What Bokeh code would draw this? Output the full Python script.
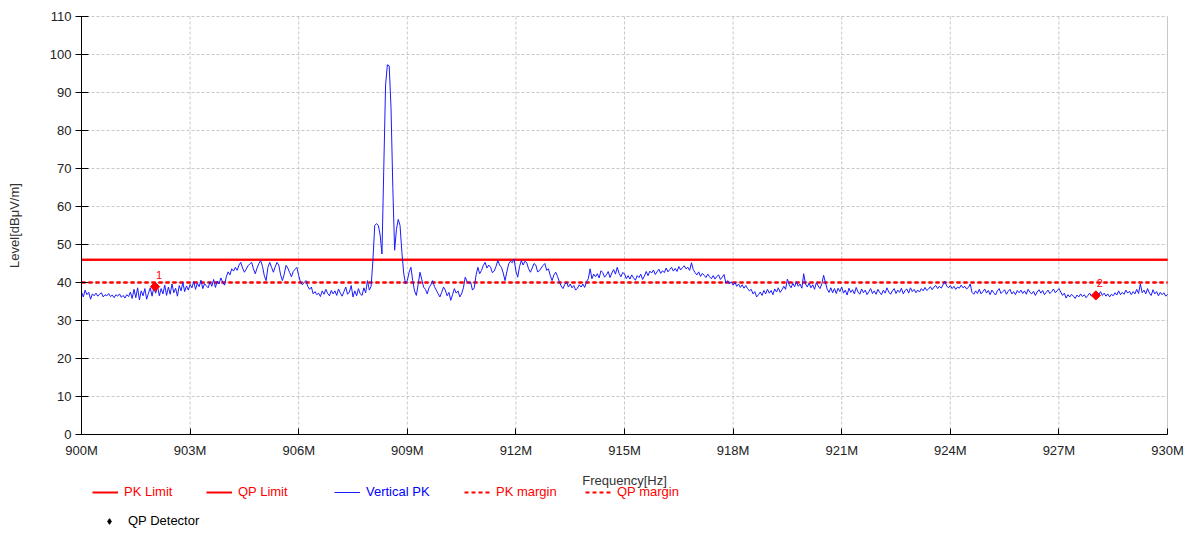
import math
import numpy as np
from bokeh.plotting import figure
from bokeh.models import (FixedTicker, PrintfTickFormatter, Legend, LegendItem,
                          Range1d, ColumnDataSource, Label)
from bokeh.core.properties import value
from bokeh.embed import file_html
from bokeh.resources import INLINE

# ---------------- data ----------------
# Vertical PK trace, one row per MHz (900M ... 929M), 0.05 MHz steps
vertical_pk_rows = [
    [37.5, 36.2, 38.0, 36.8, 37.4, 35.6, 37.0, 36.5, 37.2, 36.4, 36.9, 37.3, 36.2, 36.8, 36.5, 37.1, 36.3, 36.7, 36.0, 36.8],
    [36.4, 37.0, 36.1, 36.6, 35.9, 36.8, 36.3, 37.5, 35.8, 38.2, 36.0, 38.6, 35.4, 37.8, 36.5, 38.4, 35.6, 37.2, 38.6, 36.4],
    [38.9, 37.2, 39.0, 36.5, 38.4, 37.0, 39.3, 36.6, 38.8, 36.9, 39.6, 37.3, 38.5, 36.4, 39.2, 37.8, 40.0, 37.6, 39.1, 38.0],
    [39.5, 38.6, 40.3, 38.2, 39.8, 38.9, 40.6, 38.4, 39.7, 39.1, 38.6, 40.2, 39.0, 40.8, 38.7, 40.4, 39.6, 41.2, 40.1, 39.3],
    [41.5, 42.8, 42.0, 43.6, 43.0, 44.0, 43.2, 44.6, 45.3, 43.8, 42.7, 43.5, 44.4, 44.9, 45.3, 43.6, 42.3, 43.8, 45.0, 45.8],
    [44.2, 41.8, 40.5, 44.0, 45.3, 44.0, 42.7, 44.1, 45.3, 44.6, 42.0, 40.5, 42.2, 44.5, 43.8, 42.6, 41.5, 42.9, 43.5, 44.0],
    [41.8, 40.1, 39.4, 40.0, 40.5, 39.0, 38.2, 38.8, 37.0, 37.6, 36.8, 37.2, 36.3, 37.8, 36.9, 38.2, 37.1, 36.5, 37.9, 37.0],
    [37.8, 36.6, 38.3, 37.2, 36.4, 37.6, 38.8, 36.9, 37.5, 39.2, 36.2, 37.8, 36.5, 38.4, 37.0, 36.6, 38.6, 37.3, 40.5, 38.0],
    [39.0, 45.8, 55.0, 55.5, 55.0, 52.5, 47.5, 70.0, 92.0, 97.3, 97.0, 86.0, 65.0, 48.5, 54.0, 56.6, 55.0, 48.0, 42.5, 39.7],
    [40.5, 42.7, 44.0, 40.5, 37.8, 36.6, 39.5, 42.7, 40.8, 38.8, 38.2, 37.0, 38.6, 39.4, 40.5, 38.9, 38.0, 37.1, 36.2, 37.4],
    [38.8, 38.0, 36.5, 37.4, 35.3, 36.8, 38.4, 37.2, 37.8, 36.2, 37.0, 38.6, 41.4, 40.3, 39.8, 40.1, 38.0, 38.6, 42.0, 44.0],
    [42.3, 43.2, 44.5, 45.3, 43.8, 44.6, 44.0, 42.6, 43.0, 44.2, 45.8, 44.6, 44.0, 42.5, 40.5, 42.8, 44.9, 45.6, 45.2, 46.2],
    [43.0, 41.4, 44.2, 45.8, 44.6, 45.6, 45.2, 43.6, 42.7, 43.8, 45.0, 44.6, 42.8, 43.1, 43.8, 44.5, 45.0, 43.2, 43.6, 41.8],
    [40.5, 42.0, 42.7, 41.6, 40.2, 39.1, 38.4, 39.5, 40.1, 38.8, 39.6, 38.6, 39.2, 38.0, 38.5, 39.4, 38.8, 39.6, 38.7, 40.2],
    [41.0, 43.6, 41.0, 42.2, 41.5, 42.3, 41.2, 43.1, 42.6, 41.4, 42.0, 42.9, 41.3, 42.5, 43.4, 42.2, 44.0, 42.4, 41.5, 42.6],
    [42.3, 41.0, 41.8, 40.9, 42.0, 41.2, 40.6, 41.8, 41.3, 42.2, 40.8, 41.7, 42.9, 41.8, 43.0, 42.5, 43.3, 42.1, 42.8, 43.5],
    [42.4, 43.1, 42.6, 43.8, 42.8, 43.4, 44.0, 43.0, 43.7, 42.9, 44.2, 43.3, 43.9, 44.4, 43.6, 44.0, 43.2, 45.2, 43.4, 42.6],
    [42.0, 42.8, 41.6, 42.4, 41.9, 41.3, 42.2, 41.5, 41.0, 41.8, 40.9, 41.6, 42.0, 40.8, 41.4, 42.1, 39.8, 40.5, 39.6, 40.2],
    [39.3, 40.0, 39.0, 39.6, 38.7, 39.4, 38.5, 39.2, 38.4, 37.8, 38.2, 37.0, 37.6, 36.2, 36.8, 37.5, 36.6, 37.9, 37.0, 38.2],
    [37.2, 37.9, 36.8, 38.3, 37.5, 38.6, 37.4, 38.1, 39.0, 38.2, 40.9, 39.4, 38.6, 39.8, 38.9, 40.2, 39.0, 39.6, 38.5, 42.3],
    [39.6, 38.8, 39.9, 38.6, 39.4, 38.2, 40.0, 39.1, 38.4, 39.6, 41.9, 40.0, 38.2, 37.4, 38.6, 37.3, 38.4, 37.1, 38.5, 37.6],
    [38.8, 37.2, 38.0, 36.7, 38.5, 37.4, 38.1, 37.0, 38.7, 37.5, 36.9, 38.3, 37.3, 38.0, 36.8, 37.6, 38.4, 37.1, 37.8, 36.9],
    [38.2, 37.4, 36.8, 38.0, 37.2, 38.6, 37.5, 36.9, 37.8, 38.4, 37.1, 38.0, 37.4, 38.5, 37.0, 37.9, 38.3, 37.2, 38.6, 37.6],
    [38.2, 37.3, 38.0, 37.5, 38.4, 37.8, 38.7, 37.9, 38.3, 38.9, 38.1, 38.8, 39.2, 38.4, 39.0, 38.5, 39.4, 40.3, 39.1, 38.6],
    [39.2, 38.4, 39.0, 38.2, 38.8, 38.5, 39.3, 38.6, 39.0, 38.3, 38.7, 39.6, 37.4, 36.9, 37.8, 37.1, 38.2, 37.0, 37.6, 38.3],
    [37.2, 37.9, 36.8, 38.0, 37.3, 36.7, 37.8, 38.4, 37.1, 37.6, 38.1, 36.9, 37.7, 38.2, 37.0, 37.6, 36.8, 37.9, 37.3, 38.0],
    [37.1, 37.8, 36.9, 38.2, 37.4, 37.0, 37.7, 36.6, 37.5, 38.1, 37.2, 37.9, 36.8, 37.4, 38.0, 37.1, 37.6, 38.3, 37.3, 37.8],
    [38.4, 37.5, 36.6, 37.2, 35.9, 36.8, 36.2, 36.9, 36.4, 35.8, 36.7, 36.2, 37.0, 36.3, 36.8, 36.0, 36.6, 37.2, 36.4, 36.9],
    [36.5, 37.4, 36.8, 37.6, 36.6, 37.2, 36.4, 37.0, 36.2, 36.9, 36.5, 37.3, 36.7, 37.8, 36.8, 37.4, 36.9, 38.0, 37.2, 37.7],
    [36.8, 37.6, 37.0, 38.2, 37.1, 39.6, 37.3, 38.0, 37.0, 38.4, 37.2, 36.6, 38.1, 37.0, 37.6, 36.5, 37.4, 36.8, 37.3, 36.4],
]
vertical_pk_last = 36.9  # level at 930M

limit_freq = [900.0, 930.0]
pk_limit = [46.0, 46.0]
qp_limit = [46.0, 46.0]
pk_margin = [40.0, 40.0]
qp_margin = [40.0, 40.0]

qp_freq = [902.03, 928.02]
qp_level = [38.9, 36.6]
qp_names = ["1", "2"]

x_ticks = [900, 903, 906, 909, 912, 915, 918, 921, 924, 927, 930]
y_ticks = [0, 10, 20, 30, 40, 50, 60, 70, 80, 90, 100, 110]

# build frequency grid from rows
trace_f, trace_l = [], []
for i, row in enumerate(vertical_pk_rows):
    n = len(row)
    for j, v in enumerate(row):
        trace_f.append(900 + i + j / n)
        trace_l.append(v)
trace_f.append(930.0)
trace_l.append(vertical_pk_last)

FONT = "Liberation Sans"
X0, X1 = x_ticks[0], x_ticks[-1]
Y0, Y1 = y_ticks[0], y_ticks[-1]

# ---------------- layout ----------------
# plot area 900..930 MHz -> px 81..1167 ; 0..110 -> px 434..16
PX_PER_MHZ = 1086 / (X1 - X0)
PX_PER_DB = 418 / (Y1 - Y0)
x_view = (X0 - 81 / PX_PER_MHZ, X1 + 26 / PX_PER_MHZ)
y_view = (Y0 - 100 / PX_PER_DB, Y1 + 16 / PX_PER_DB)

p = figure(width=1193, height=534, output_backend="svg", toolbar_location=None,
           x_range=Range1d(*x_view), y_range=Range1d(*y_view),
           min_border_left=0, min_border_right=0, min_border_top=0,
           min_border_bottom=0)
p.outline_line_color = None
p.background_fill_color = "white"
p.border_fill_color = "white"
p.xgrid.visible = False
p.ygrid.visible = False

# grid limited to the plot area (dashed), solid right edge
inner_x = x_ticks[1:-1]
p.segment(x0=inner_x, y0=[Y0] * len(inner_x), x1=inner_x, y1=[Y1] * len(inner_x),
          line_color="#c8c8c8", line_dash="3 2", line_width=1, level="underlay")
grid_y = y_ticks[1:]
p.segment(x0=[X0] * len(grid_y), y0=grid_y, x1=[X1] * len(grid_y), y1=grid_y,
          line_color="#c8c8c8", line_dash="3 2", line_width=1, level="underlay")
p.segment(x0=[X1], y0=[Y0], x1=[X1], y1=[Y1], line_color="#c8c8c8",
          line_width=1, level="underlay")

# axes (drawn at the plot-area edges)
p.xaxis.fixed_location = Y0
p.yaxis.fixed_location = X0
p.xaxis.bounds = (X0, X1)
p.yaxis.bounds = (Y0, Y1)
p.xaxis.ticker = FixedTicker(ticks=x_ticks)
p.yaxis.ticker = FixedTicker(ticks=y_ticks)
p.xaxis.formatter = PrintfTickFormatter(format="%dM")
for ax in (p.xaxis, p.yaxis):
    ax.axis_line_color = "black"
    ax.axis_line_width = 1
    ax.major_tick_line_color = "black"
    ax.minor_tick_line_color = None
    ax.major_label_text_font = FONT
    ax.major_label_text_font_size = "13px"
    ax.major_label_text_color = "#222222"
p.yaxis.major_tick_out = 6
p.yaxis.major_tick_in = 7
p.yaxis.major_label_standoff = 4
p.xaxis.major_tick_out = 0
p.xaxis.major_tick_in = 6
p.xaxis.major_label_standoff = 8

# axis titles
p.add_layout(Label(x=(X0 + X1) / 2, y=Y0 - 46 / PX_PER_DB, text="Frequency[Hz]",
                   text_font=FONT, text_font_size="13px", text_color="#333333",
                   text_align="center", text_baseline="middle"))
p.add_layout(Label(x=X0 - 67 / PX_PER_MHZ, y=(Y0 + Y1) / 2, text="Level[dBμV/m]",
                   angle=math.pi / 2, text_font=FONT, text_font_size="13px",
                   text_color="#333333", text_align="center",
                   text_baseline="middle"))

# series
r_pk = p.line(limit_freq, pk_limit, line_color="red", line_width=2)
r_qp = p.line(limit_freq, qp_limit, line_color="red", line_width=2)
r_pkm = p.line(limit_freq, pk_margin, line_color="red", line_width=2, line_dash="4 3")
r_qpm = p.line(limit_freq, qp_margin, line_color="red", line_width=2, line_dash="4 3")
r_trace = p.line(trace_f, trace_l, line_color="#1a1aff", line_width=1)

src = ColumnDataSource(dict(f=qp_freq, l=qp_level, name=qp_names))
p.scatter("f", "l", source=src, marker="square", angle=math.pi / 4, size=6.5,
          color="red")
p.text("f", "l", text="name", source=src, x_offset=4, y_offset=-12,
       text_font=value(FONT), text_font_size="11px", text_color="red",
       text_align="center", text_baseline="middle")

# legend swatch for the detector (black diamond), not drawn in the plot
r_det = p.scatter(qp_freq, qp_level, marker="diamond", size=9,
                  color="black", visible=False)


def add_legend(label, renderer, color, x, y):
    leg = Legend(items=[LegendItem(label=label, renderers=[renderer])],
                 location=(x, y), label_text_color=color,
                 label_text_font=FONT, label_text_font_size="13px",
                 glyph_width=26, glyph_height=14, label_height=14,
                 label_standoff=6, padding=0, margin=0, spacing=0,
                 border_line_color=None, background_fill_alpha=0,
                 inactive_fill_alpha=0)
    p.add_layout(leg)


add_legend("PK Limit", r_pk, "red", 92, 35)
add_legend("QP Limit", r_qp, "red", 206, 35)
add_legend("Vertical PK", r_trace, "blue", 334, 35)
add_legend("PK margin", r_pkm, "red", 464, 35)
add_legend("QP margin", r_qpm, "red", 585, 35)
add_legend("QP Detector", r_det, "black", 96, 6)

open("out.html", "w").write(file_html(p, INLINE))
